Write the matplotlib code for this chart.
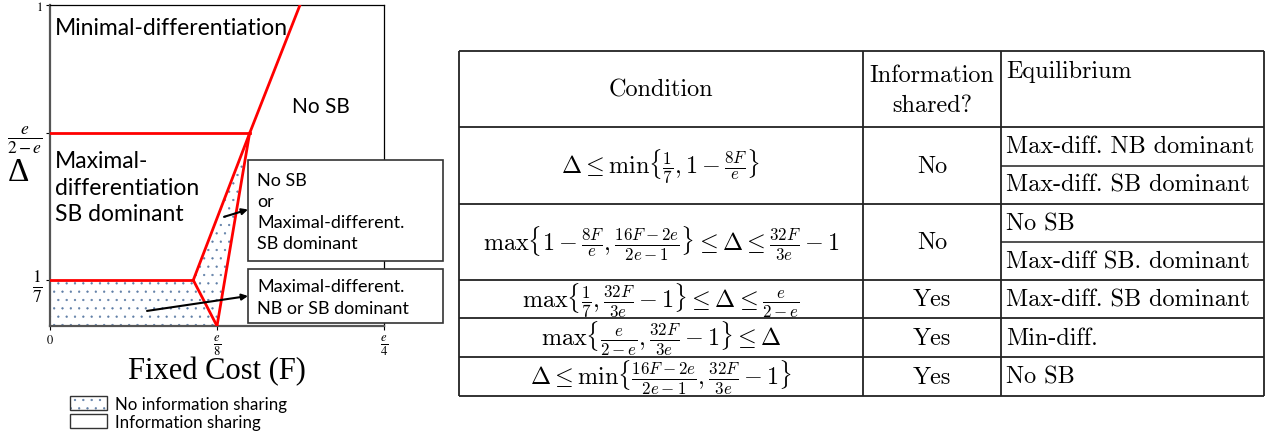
import matplotlib
matplotlib.use('Agg')
import matplotlib.pyplot as plt
from matplotlib.patches import Polygon, Rectangle, Patch
from matplotlib.legend_handler import HandlerTuple

# --- donnees du graphique (F en unites de e/8, Delta entre 0 et 1) ---
e_val = 0.75
delta_low = 1 / 7
delta_high = e_val / (2 - e_val)
kink = (0.858, delta_low)        # coude sur la ligne 1/7
corner = (1.0, 0.0)              # F = e/8, Delta = 0
cross = (1.195, delta_high)      # intersection des deux droites
top = (1.497, 1.0)               # sortie en haut du cadre

x_ticks = [0, 1, 2]
x_ticklabels = ['$0$', r'$\frac{e}{8}$', r'$\frac{e}{4}$']
y_ticks = [delta_low, delta_high, 1]
y_ticklabels = [r'$\frac{1}{7}$', r'$\frac{e}{2-e}$', '$1$']

region_labels = ['Minimal-differentiation', 'No SB', 'Maximal-\ndifferentiation\nSB dominant']
box_labels = ['No SB\nor\nMaximal-different.\nSB dominant',
              'Maximal-different.\nNB or SB dominant']
arrow_starts = [(1.042, 0.340), (0.581, 0.047)]
legend_labels = ['No information sharing', 'Information sharing']

# --- donnees du tableau ---
header = ['Condition', 'Information\nshared?', 'Equilibrium']
conditions = [r'$\Delta \leq \min\{\frac{1}{7}, 1-\frac{8F}{e}\}$',
              r'$\max\{1-\frac{8F}{e}, \frac{16F-2e}{2e-1}\} \leq \Delta \leq \frac{32F}{3e}-1$',
              r'$\max\{\frac{1}{7}, \frac{32F}{3e}-1\} \leq \Delta \leq \frac{e}{2-e}$',
              r'$\max\{\frac{e}{2-e}, \frac{32F}{3e}-1\} \leq \Delta$',
              r'$\Delta \leq \min\{\frac{16F-2e}{2e-1}, \frac{32F}{3e}-1\}$']
shared = ['No', 'No', 'Yes', 'Yes', 'Yes']
equilibria = [['Max-diff. NB dominant', 'Max-diff. SB dominant'],
              ['No SB', 'Max-diff SB. dominant'],
              ['Max-diff. SB dominant'],
              ['Min-diff.'],
              ['No SB']]

plt.rcParams['hatch.linewidth'] = 0.4
sans = 'Lato'
red = '#ff0000'
dot_col = '#5f7ea6'

fig = plt.figure(figsize=(12.66, 4.35), dpi=100)
W, H = 1266, 435
ax = fig.add_axes([50 / W, 108 / H, 334 / W, 321 / H])
ax.set_xlim(0, 2)
ax.set_ylim(0, 1)

# zone sans partage d'information (pointilles)
zone = Polygon([(0, 0), (0, delta_low), kink, cross, corner], closed=True,
               facecolor='white', edgecolor=dot_col, lw=0, hatch='..', zorder=1)
ax.add_patch(zone)

# frontieres en rouge
ax.plot([0, kink[0]], [delta_low, delta_low], color=red, lw=2, zorder=3)
ax.plot([0, cross[0]], [delta_high, delta_high], color=red, lw=2, zorder=3)
ax.plot([kink[0], cross[0], top[0]], [kink[1], cross[1], top[1]], color=red, lw=2, zorder=3)
ax.plot([kink[0], corner[0]], [kink[1], corner[1]], color=red, lw=2, zorder=3)
ax.plot([corner[0], cross[0]], [corner[1], cross[1]], color=red, lw=2, zorder=3)

ax.text(0.03, 0.93, region_labels[0], fontsize=16.5, family=sans, va='center')
ax.text(1.45, 0.685, region_labels[1], fontsize=15, family=sans, va='center')
ax.text(0.03, 0.433, region_labels[2], fontsize=16.5, family=sans, va='center', linespacing=1.3)

ax.set_xticks(x_ticks)
ax.set_xticklabels(x_ticklabels)
ax.set_yticks(y_ticks)
ax.set_yticklabels(y_ticklabels)
for lab in ax.get_xticklabels():
    lab.set_math_fontfamily('stix')
    lab.set_fontsize(13 if 'frac' in lab.get_text() else 9)
for lab in ax.get_yticklabels():
    lab.set_math_fontfamily('stix')
    lab.set_fontsize(18 if 'frac' in lab.get_text() else 9)
ax.tick_params(length=3, width=0.8, pad=2)

ax.set_xlabel('Fixed Cost (F)', family='Liberation Serif', fontsize=22)
ax.xaxis.set_label_coords(0.5, -0.092)
ax.set_ylabel('Δ', family='Liberation Serif', fontsize=24, rotation=0, va='center')
ax.yaxis.set_label_coords(-0.095, 0.48)

for s in ['left', 'bottom']:
    ax.spines[s].set_linewidth(1.6)
    ax.spines[s].set_color('#555555')
for s in ['top', 'right']:
    ax.spines[s].set_linewidth(0.9)

# axe superpose en pixels pour les encadres et le tableau
tab = fig.add_axes([0, 0, 1, 1])
tab.set_xlim(0, W)
tab.set_ylim(H, 0)
tab.axis('off')

boxes = [(248, 161, 195, 101), (248, 270, 195, 54)]
for (bx, by, bw, bh), txt, start in zip(boxes, box_labels, arrow_starts):
    tab.add_patch(Rectangle((bx, by), bw, bh, facecolor='white', edgecolor='#333333', lw=1.2))
    tab.text(bx + 9, by + bh / 2 + 1, txt, fontsize=13, family=sans, va='center',
             linespacing=1.4)
    ax.annotate('', xy=(bx, by + bh / 2 + (-1 if bh > 80 else 0)), xycoords=tab.transData,
                xytext=start, textcoords='data', annotation_clip=False,
                arrowprops=dict(arrowstyle='-|>', color='black', lw=1.5,
                                mutation_scale=9, shrinkA=0, shrinkB=0))

# legende
hatched = Patch(facecolor='white', edgecolor=dot_col, lw=0, hatch='..')
frame = Patch(facecolor='none', edgecolor='#333333', lw=1)
plain = Patch(facecolor='white', edgecolor='#333333', lw=1)
fig.legend([(hatched, frame), plain], legend_labels,
           handler_map={tuple: HandlerTuple(ndivide=1)},
           loc='upper left', bbox_to_anchor=(70 / W, 1 - 397 / H),
           frameon=False, prop={'family': sans, 'size': 12.2},
           handlelength=2.2, handleheight=0.85, handletextpad=0.45,
           labelspacing=0.12, borderpad=0, borderaxespad=0)

# tableau
col_edges = [459, 863, 1001, 1264]
row_edges = [52, 128, 205, 281, 319, 358, 397]
lc = '#222222'
tab.hlines(row_edges, col_edges[0], col_edges[-1], color=lc, lw=1.3)
tab.vlines(col_edges, row_edges[0], row_edges[-1], color=lc, lw=1.3)

tfont = dict(family='cmr10', fontsize=17.4, math_fontfamily='cm')
c1 = (col_edges[0] + col_edges[1]) / 2
c2 = (col_edges[1] + col_edges[2]) / 2
x3 = col_edges[2] + 5
tab.text(c1, (row_edges[0] + row_edges[1]) / 2, header[0], ha='center', va='center', **tfont)
tab.text(c2, (row_edges[0] + row_edges[1]) / 2 + 1, header[1], ha='center', va='center',
         linespacing=1.5, **tfont)
tab.text(x3, row_edges[0] + 20, header[2], ha='left', va='center', **tfont)

for i, (cond, sh, eq) in enumerate(zip(conditions, shared, equilibria)):
    y0, y1 = row_edges[i + 1], row_edges[i + 2]
    ym = (y0 + y1) / 2
    tab.text(c1, ym, cond, ha='center', va='center', **tfont)
    tab.text(c2, ym, sh, ha='center', va='center', **tfont)
    n = len(eq)
    step = (y1 - y0) / n
    for k, lab in enumerate(eq):
        tab.text(x3, y0 + step * (k + 0.5), lab, ha='left', va='center', **tfont)
        if k > 0:
            tab.hlines(y0 + step * k, col_edges[2], col_edges[3], color=lc, lw=1.1)

fig.savefig('out.png', dpi=100)
